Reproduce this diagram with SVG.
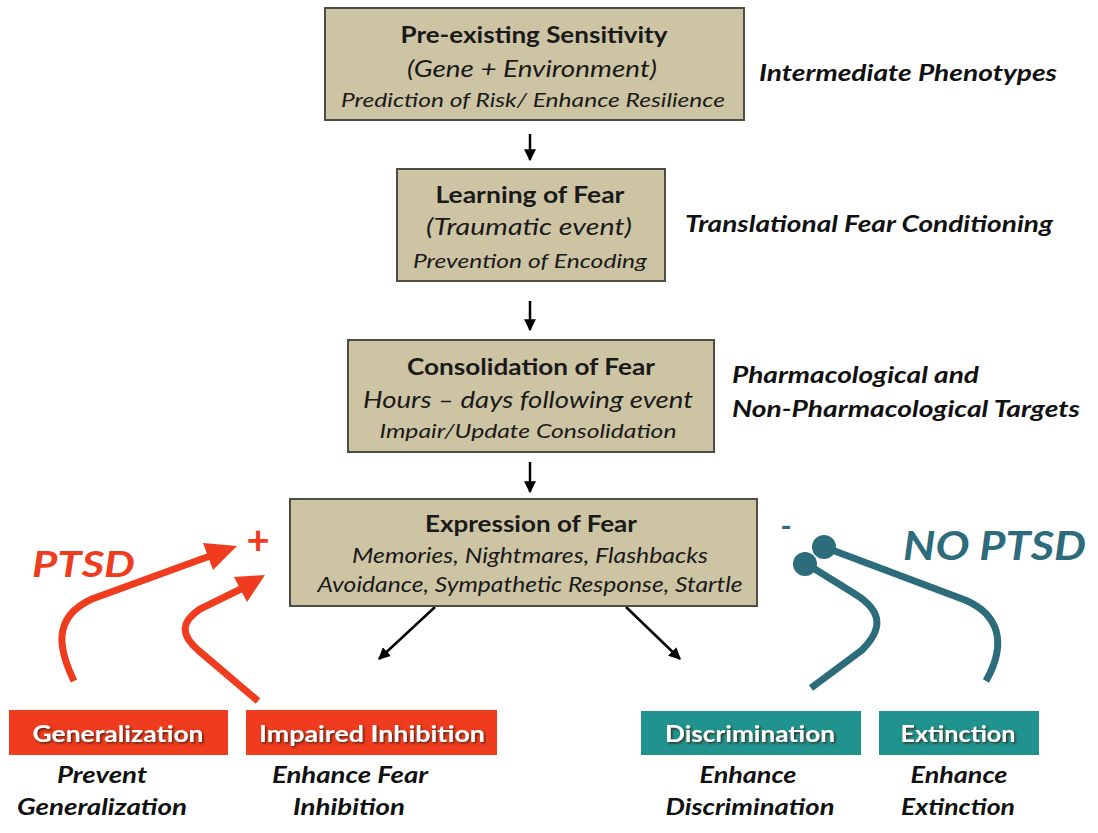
<svg xmlns="http://www.w3.org/2000/svg" width="1098" height="833" viewBox="0 0 1098 833">
<defs>
<style>
.box{fill:#cdc4a4;stroke:#4d4d46;stroke-width:2}
.t{font-family:Lato,"Open Sans","Liberation Sans",sans-serif;fill:#1a1a1a;text-anchor:middle}
.b{font-weight:bold}
.i{font-style:italic}
.side{font-family:Lato,"Open Sans","Liberation Sans",sans-serif;font-weight:bold;font-style:italic;fill:#111;font-size:22px}
.lab{font-family:Lato,"Open Sans","Liberation Sans",sans-serif;font-weight:bold;fill:#fff;font-size:22px;text-anchor:middle;filter:url(#sh)}
.sub{font-family:Lato,"Open Sans","Liberation Sans",sans-serif;font-weight:bold;font-style:italic;fill:#111;font-size:22px;text-anchor:middle}
.red{fill:#f03c1e}
.teal{fill:#21938f}
.blk{stroke:#000;stroke-width:2.5;fill:none}
.rc{stroke:#f03c1e;stroke-width:7;fill:none}
.tc{stroke:#2c6c7b;stroke-width:7;fill:none}
</style>
<marker id="ah" viewBox="0 0 10 10" refX="9" refY="5" markerWidth="4.8" markerHeight="4.8" orient="auto" markerUnits="strokeWidth">
<path d="M0,0 L10,5 L0,10 Z" fill="#000"/>
</marker>
<filter id="sh" x="-10%" y="-30%" width="130%" height="170%">
<feDropShadow dx="1.5" dy="1.5" stdDeviation="0.8" flood-color="#3a1a10" flood-opacity="0.85"/>
</filter>
</defs>
<rect width="1098" height="833" fill="#fff"/>

<g id="connectors">
<line class="blk" x1="530" y1="134" x2="530" y2="160" marker-end="url(#ah)"/>
<line class="blk" x1="530" y1="301" x2="530" y2="330" marker-end="url(#ah)"/>
<line class="blk" x1="530" y1="462" x2="530" y2="492" marker-end="url(#ah)"/>
<line class="blk" x1="435" y1="607" x2="379" y2="659" marker-end="url(#ah)"/>
<line class="blk" x1="626" y1="607" x2="680" y2="659" marker-end="url(#ah)"/>
<g id="ptsd-arrows">
<path class="rc" d="M74,681 C60,652 50,618 92,599 L210,556"/>
<polygon class="red" points="237,546 213,570 203,543"/>
<path class="rc" d="M258,701 L198,650 C180,634 181,622 200,609 L241,589"/>
<polygon class="red" points="265,575 247,602 234,577"/>
</g>
<g id="noptsd-curves">
<path class="tc" d="M824,547 L965,600 C998,614 1008,642 986,681"/>
<circle cx="824" cy="547" r="12" fill="#2c6c7b"/>
<path class="tc" d="M805,563 L855,594 C884,612 882,630 862,650 L811,688"/>
<circle cx="805" cy="564" r="12" fill="#2c6c7b"/>
</g>
</g>

<g id="n1">
<rect class="box" x="325" y="8" width="419" height="112"/>
<text class="t b" x="534" y="43" font-size="23" textLength="267" lengthAdjust="spacingAndGlyphs">Pre-existing Sensitivity</text>
<text class="t i" x="532" y="77" font-size="22.5" textLength="250" lengthAdjust="spacingAndGlyphs">(Gene + Environment)</text>
<text class="t i" x="533" y="107" font-size="20" textLength="384" lengthAdjust="spacingAndGlyphs">Prediction of Risk/ Enhance Resilience</text>
</g>
<text class="side" x="759" y="81" textLength="298" lengthAdjust="spacingAndGlyphs">Intermediate Phenotypes</text>

<g id="n2">
<rect class="box" x="397" y="169" width="268" height="112"/>
<text class="t b" x="530" y="203" font-size="23" textLength="189" lengthAdjust="spacingAndGlyphs">Learning of Fear</text>
<text class="t i" x="529" y="235" font-size="22.5" textLength="206" lengthAdjust="spacingAndGlyphs">(Traumatic event)</text>
<text class="t i" x="530" y="268" font-size="20" textLength="234" lengthAdjust="spacingAndGlyphs">Prevention of Encoding</text>
</g>
<text class="side" x="685" y="232" textLength="368" lengthAdjust="spacingAndGlyphs">Translational Fear Conditioning</text>

<g id="n3">
<rect class="box" x="348" y="340" width="366" height="112"/>
<text class="t b" x="531" y="375" font-size="23" textLength="248" lengthAdjust="spacingAndGlyphs">Consolidation of Fear</text>
<text class="t i" x="528" y="408" font-size="22.5" textLength="330" lengthAdjust="spacingAndGlyphs">Hours – days following event</text>
<text class="t i" x="528" y="438" font-size="20" textLength="297" lengthAdjust="spacingAndGlyphs">Impair/Update Consolidation</text>
</g>
<text class="side" x="732" y="383" textLength="247" lengthAdjust="spacingAndGlyphs">Pharmacological and</text>
<text class="side" x="732" y="417" textLength="348" lengthAdjust="spacingAndGlyphs">Non-Pharmacological Targets</text>

<g id="n4">
<rect class="box" x="290" y="499" width="467" height="107"/>
<text class="t b" x="531" y="532" font-size="23" textLength="212" lengthAdjust="spacingAndGlyphs">Expression of Fear</text>
<text class="t i" x="530" y="563" font-size="20.5" textLength="356" lengthAdjust="spacingAndGlyphs">Memories, Nightmares, Flashbacks</text>
<text class="t i" x="530" y="592" font-size="20.5" textLength="425" lengthAdjust="spacingAndGlyphs">Avoidance, Sympathetic Response, Startle</text>
</g>

<g id="ptsd-label">
<text x="32" y="577" font-family="Lato,'Open Sans','Liberation Sans',sans-serif" font-weight="bold" font-style="italic" font-size="37" fill="#f03c1e" textLength="103" lengthAdjust="spacingAndGlyphs">PTSD</text>
<text x="258" y="554" font-family="Lato,'Open Sans','Liberation Sans',sans-serif" font-weight="bold" font-size="40" fill="#f03c1e" text-anchor="middle">+</text>
</g>
<g id="noptsd-label">
<text x="903" y="560" font-family="Lato,'Open Sans','Liberation Sans',sans-serif" font-weight="bold" font-style="italic" font-size="40" fill="#2c6c7b" textLength="183" lengthAdjust="spacingAndGlyphs">NO PTSD</text>
<text x="786" y="537" font-family="Lato,'Open Sans','Liberation Sans',sans-serif" font-weight="bold" font-size="30" fill="#2c6c7b" text-anchor="middle">-</text>
</g>

<g id="generalization">
<rect class="red" x="9" y="710" width="219" height="45"/>
<text class="lab" x="118" y="742" textLength="171" lengthAdjust="spacingAndGlyphs">Generalization</text>
<text class="sub" x="102" y="783" textLength="90" lengthAdjust="spacingAndGlyphs">Prevent</text>
<text class="sub" x="102" y="815" textLength="170" lengthAdjust="spacingAndGlyphs">Generalization</text>
</g>
<g id="impaired-inhibition">
<rect class="red" x="246" y="710" width="251" height="45"/>
<text class="lab" x="372" y="742" textLength="226" lengthAdjust="spacingAndGlyphs">Impaired Inhibition</text>
<text class="sub" x="350" y="783" textLength="156" lengthAdjust="spacingAndGlyphs">Enhance Fear</text>
<text class="sub" x="349" y="815" textLength="112" lengthAdjust="spacingAndGlyphs">Inhibition</text>
</g>
<g id="discrimination">
<rect class="teal" x="641" y="711" width="220" height="44"/>
<text class="lab" x="750" y="742" textLength="170" lengthAdjust="spacingAndGlyphs">Discrimination</text>
<text class="sub" x="748" y="783" textLength="97" lengthAdjust="spacingAndGlyphs">Enhance</text>
<text class="sub" x="750" y="815" textLength="169" lengthAdjust="spacingAndGlyphs">Discrimination</text>
</g>
<g id="extinction">
<rect class="teal" x="879" y="711" width="160" height="44"/>
<text class="lab" x="958" y="742" textLength="115" lengthAdjust="spacingAndGlyphs">Extinction</text>
<text class="sub" x="959" y="783" textLength="97" lengthAdjust="spacingAndGlyphs">Enhance</text>
<text class="sub" x="958" y="815" textLength="114" lengthAdjust="spacingAndGlyphs">Extinction</text>
</g>
</svg>
